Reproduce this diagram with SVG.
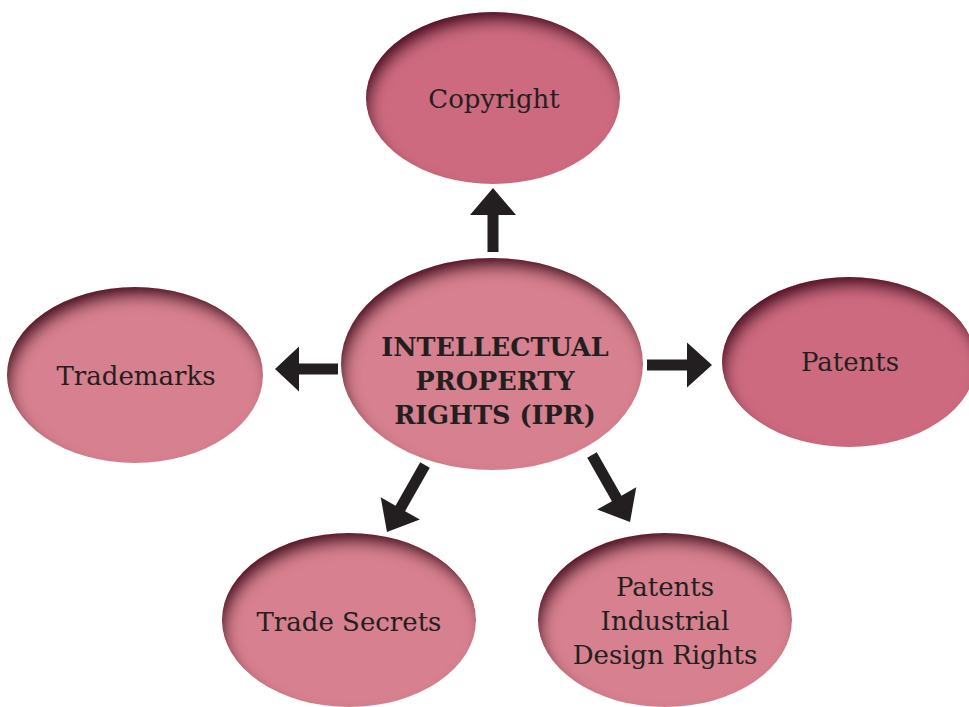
<svg xmlns="http://www.w3.org/2000/svg" width="969" height="707" viewBox="0 0 969 707">
<defs>
<filter id="inset" x="-10%" y="-10%" width="120%" height="120%">
<feGaussianBlur in="SourceAlpha" stdDeviation="7"/>
<feOffset dx="5" dy="11" result="off"/>
<feComposite in="SourceAlpha" in2="off" operator="arithmetic" k2="1" k3="-1" result="edge"/>
<feFlood flood-color="#541028" flood-opacity="1"/>
<feComposite in2="edge" operator="in" result="shadow"/>
<feMerge><feMergeNode in="SourceGraphic"/><feMergeNode in="shadow"/></feMerge>
</filter>
<style>
.node{filter:url(#inset)}
.dark{fill:#cd6a80}
.light{fill:#d7808f}
.lbl{font-family:"DejaVu Serif","Liberation Serif",serif;font-size:26px;fill:#231f20;text-anchor:middle}
.bold{font-family:"DejaVu Serif","Liberation Serif",serif;font-size:25.5px;font-weight:bold;fill:#231f20;text-anchor:middle}
.arrow{fill:#231f20}
</style>
</defs>
<rect width="969" height="707" fill="#ffffff"/>
<g id="connectors">
<path class="arrow" d="M0,-5.5 H37 V-23 L64,0 L37,23 V5.5 H0 Z" transform="translate(493,252) rotate(-90)"/>
<path class="arrow" d="M0,-5.5 H40 V-22.5 L65,0 L40,22.5 V5.5 H0 Z" transform="translate(647,365)"/>
<path class="arrow" d="M0,-5.5 H39 V-22.5 L63,0 L39,22.5 V5.5 H0 Z" transform="translate(338,369) rotate(180)"/>
<path class="arrow" d="M0,-5.5 H50 V-22.5 L77,0 L50,22.5 V5.5 H0 Z" transform="translate(425,465) rotate(119.6)"/>
<path class="arrow" d="M0,-5.5 H50 V-22.5 L77,0 L50,22.5 V5.5 H0 Z" transform="translate(592,455) rotate(60.4)"/>
</g>
<g id="copyright">
<ellipse class="node dark" cx="493" cy="98" rx="127" ry="86"/>
<text class="lbl" x="494" y="108">Copyright</text>
</g>
<g id="ipr">
<ellipse class="node light" cx="492" cy="364" rx="151" ry="106"/>
<text class="bold" x="495" y="356">INTELLECTUAL</text>
<text class="bold" x="495" y="390">PROPERTY</text>
<text class="bold" x="495" y="424">RIGHTS (IPR)</text>
</g>
<g id="patents">
<ellipse class="node dark" cx="849" cy="362" rx="127" ry="85"/>
<text class="lbl" x="850" y="371">Patents</text>
</g>
<g id="trademarks">
<ellipse class="node light" cx="135" cy="375" rx="128" ry="88"/>
<text class="lbl" x="136" y="385">Trademarks</text>
</g>
<g id="trade-secrets">
<ellipse class="node light" cx="349" cy="620" rx="127" ry="87"/>
<text class="lbl" x="349" y="631">Trade Secrets</text>
</g>
<g id="industrial-design">
<ellipse class="node light" cx="665" cy="620" rx="127" ry="87"/>
<text class="lbl" x="665" y="596">Patents</text>
<text class="lbl" x="665" y="630">Industrial</text>
<text class="lbl" x="665" y="664">Design Rights</text>
</g>
</svg>
